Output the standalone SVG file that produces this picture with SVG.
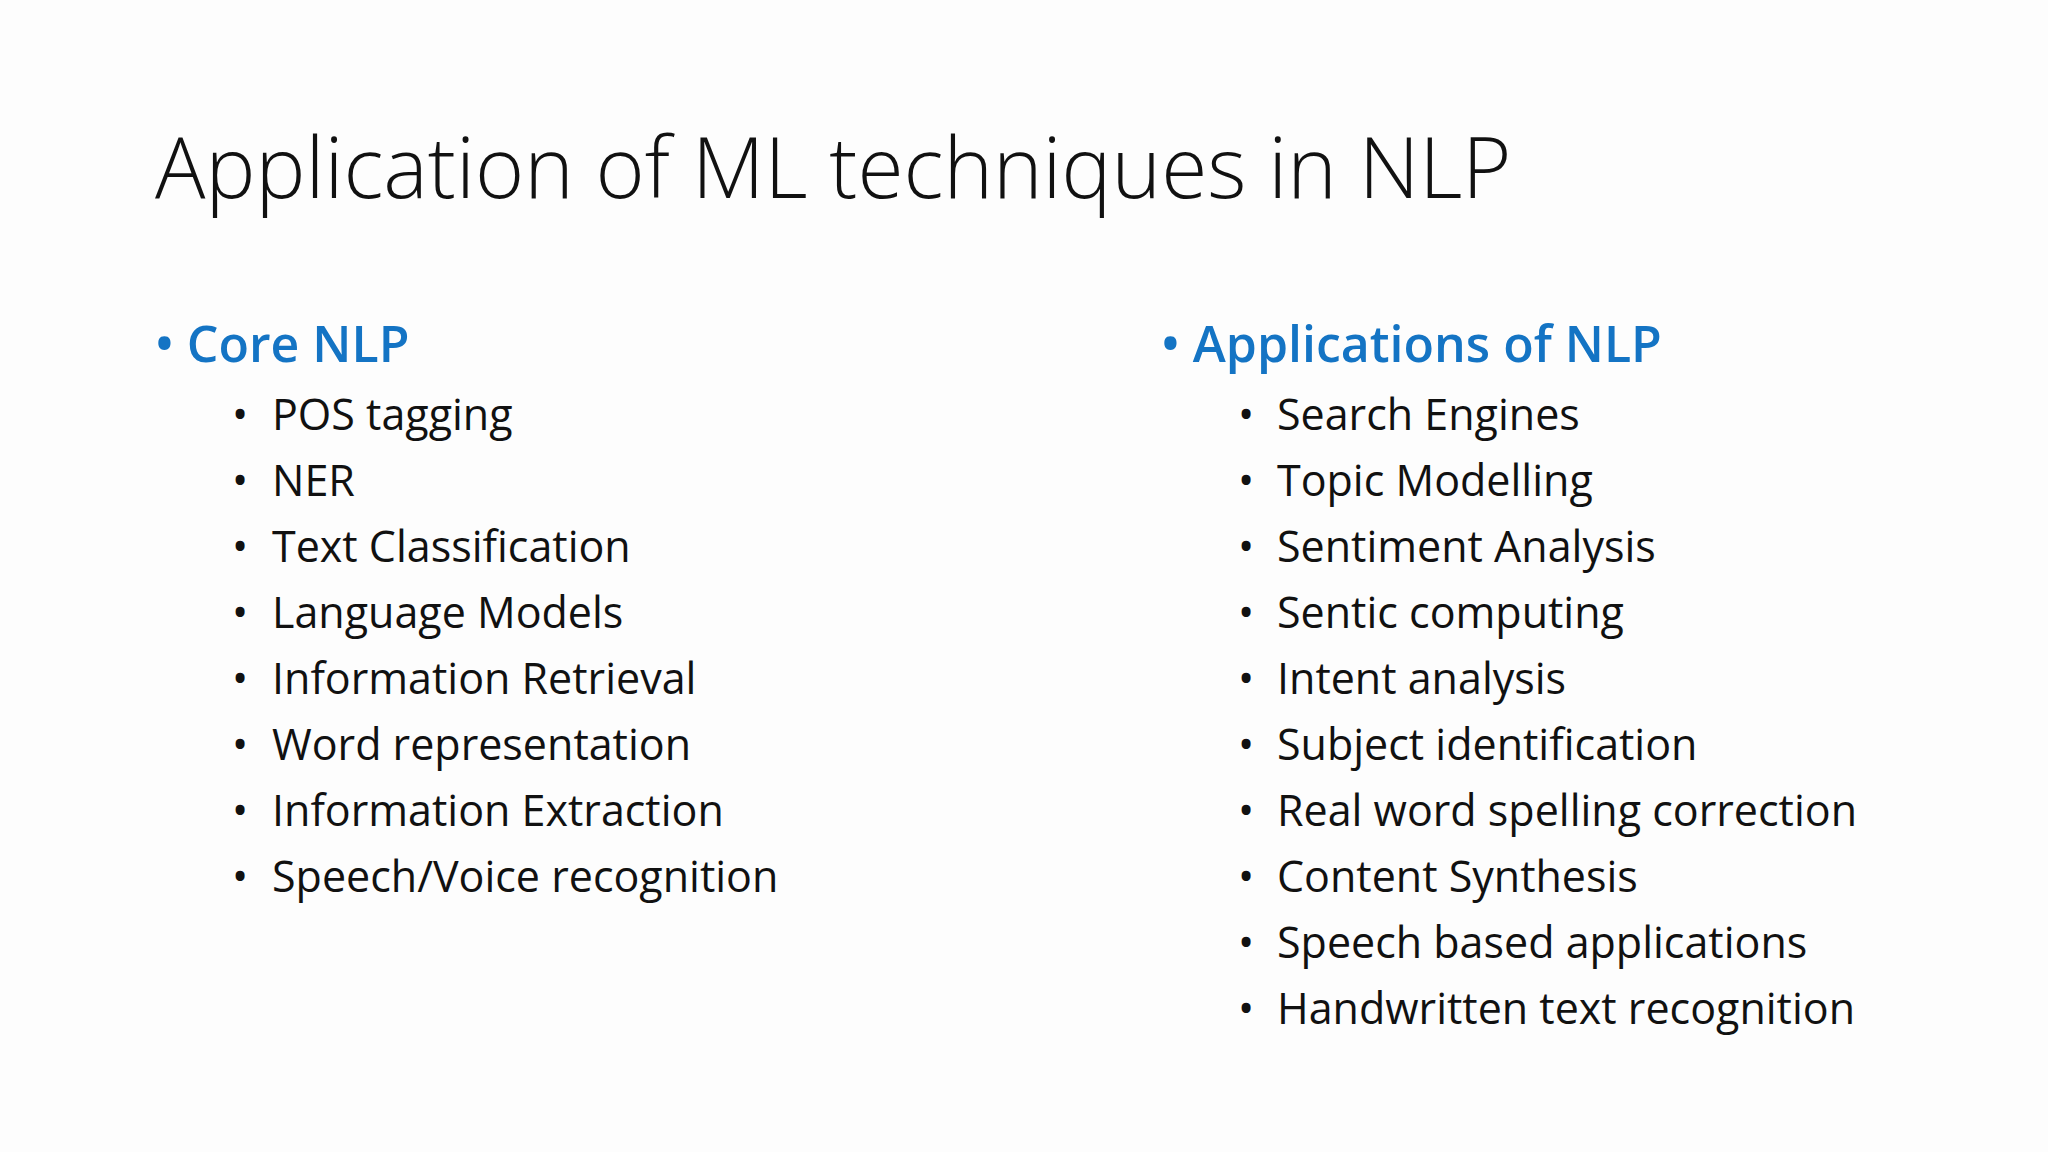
<svg xmlns="http://www.w3.org/2000/svg" width="2048" height="1152" viewBox="0 0 2048 1152">
<style>
.t{font-family:"Open Sans","Noto Sans",sans-serif;font-weight:300;font-size:84px;fill:#111}
.h{font-family:"Open Sans","Noto Sans",sans-serif;font-weight:600;font-size:50px;fill:#1474c4}
.s{font-family:"Open Sans","Noto Sans",sans-serif;font-size:43px;fill:#111}
</style>
<rect width="2048" height="1152" fill="#fdfdfd"/>
<text class="t" x="155" y="198">Application of ML techniques in NLP</text>
<g id="left">
<text class="h" x="155" y="362">• Core NLP</text>
<g class="s">
<text class="s" x="232" y="430">•</text><text class="s" x="272" y="430">POS tagging</text>
<text class="s" x="232" y="496">•</text><text class="s" x="272" y="496">NER</text>
<text class="s" x="232" y="562">•</text><text class="s" x="272" y="562">Text Classification</text>
<text class="s" x="232" y="628">•</text><text class="s" x="272" y="628">Language Models</text>
<text class="s" x="232" y="694">•</text><text class="s" x="272" y="694">Information Retrieval</text>
<text class="s" x="232" y="760">•</text><text class="s" x="272" y="760">Word representation</text>
<text class="s" x="232" y="826">•</text><text class="s" x="272" y="826">Information Extraction</text>
<text class="s" x="232" y="892">•</text><text class="s" x="272" y="892">Speech/Voice recognition</text>
</g>
</g>
<g id="right">
<text class="h" x="1161" y="362">• Applications of NLP</text>
<text class="s" x="1238" y="430">•</text><text class="s" x="1277" y="430">Search Engines</text>
<text class="s" x="1238" y="496">•</text><text class="s" x="1277" y="496">Topic Modelling</text>
<text class="s" x="1238" y="562">•</text><text class="s" x="1277" y="562">Sentiment Analysis</text>
<text class="s" x="1238" y="628">•</text><text class="s" x="1277" y="628">Sentic computing</text>
<text class="s" x="1238" y="694">•</text><text class="s" x="1277" y="694">Intent analysis</text>
<text class="s" x="1238" y="760">•</text><text class="s" x="1277" y="760">Subject identification</text>
<text class="s" x="1238" y="826">•</text><text class="s" x="1277" y="826">Real word spelling correction</text>
<text class="s" x="1238" y="892">•</text><text class="s" x="1277" y="892">Content Synthesis</text>
<text class="s" x="1238" y="958">•</text><text class="s" x="1277" y="958">Speech based applications</text>
<text class="s" x="1238" y="1024">•</text><text class="s" x="1277" y="1024">Handwritten text recognition</text>
</g>
</svg>
